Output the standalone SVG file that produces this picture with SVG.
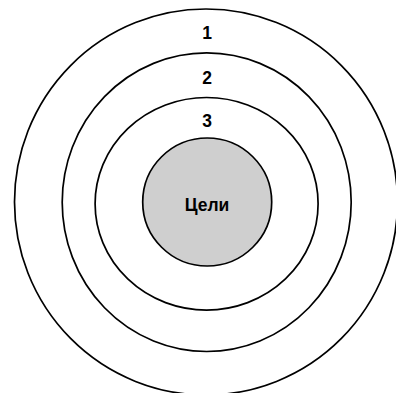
<svg xmlns="http://www.w3.org/2000/svg" width="396" height="393" viewBox="0 0 396 393">
<style>
.ring{fill:none;stroke:#000;stroke-width:1.7}
.lbl{font-family:"Liberation Sans Narrow","Liberation Sans",Arial,sans-serif;font-weight:bold;font-size:17.5px;text-anchor:middle;fill:#000}
</style>
<rect width="396" height="393" fill="#fff"/>
<g id="ring1">
<ellipse class="ring" cx="206" cy="202" rx="191.5" ry="193"/>
<text class="lbl" x="207" y="38.5">1</text>
</g>
<g id="ring2">
<ellipse class="ring" cx="206.7" cy="202.2" rx="144.5" ry="149.3"/>
<text class="lbl" x="207" y="83.5">2</text>
</g>
<g id="ring3">
<ellipse class="ring" cx="206.6" cy="203.8" rx="111.5" ry="106.3"/>
<text class="lbl" x="207" y="126.5">3</text>
</g>
<g id="goals">
<ellipse cx="207.2" cy="202" rx="64.5" ry="64" fill="#cfcfcf" stroke="#000" stroke-width="1.7"/>
<text class="lbl" x="207" y="210.5">Цели</text>
</g>
</svg>
